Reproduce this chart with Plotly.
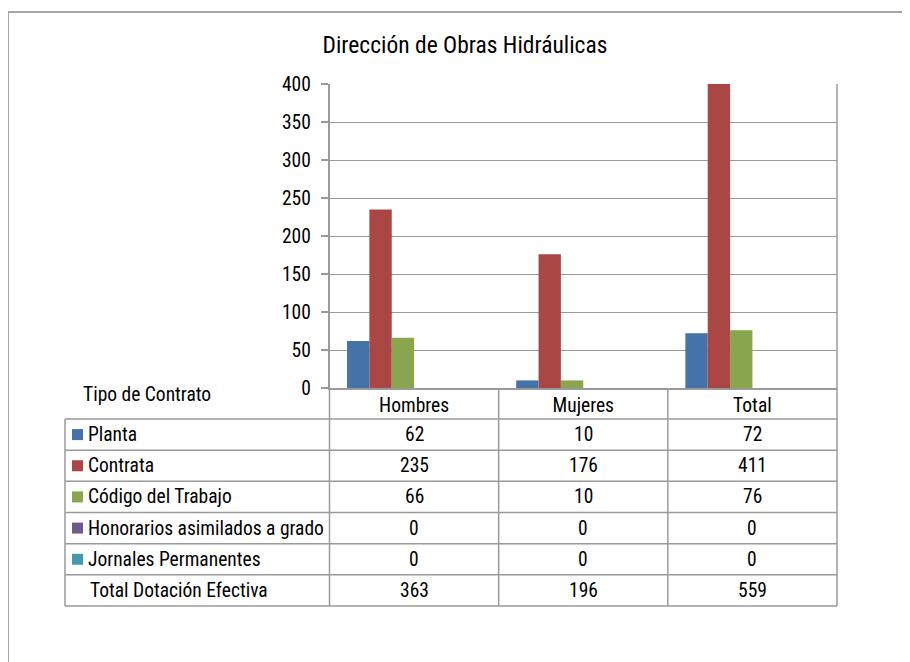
import plotly.graph_objects as go

# ---------------- data ----------------
title_text = "Dirección de Obras Hidráulicas"
table_header = "Tipo de Contrato"
categories = ["Hombres", "Mujeres", "Total"]

series_names = ["Planta", "Contrata", "Código del Trabajo",
                "Honorarios asimilados a grado", "Jornales Permanentes"]
planta = [62, 10, 72]
contrata = [235, 176, 411]
codigo_trabajo = [66, 10, 76]
honorarios = [0, 0, 0]
jornales = [0, 0, 0]
total_name = "Total Dotación Efectiva"
total_dotacion = [363, 196, 559]

y_tickvals = [0, 50, 100, 150, 200, 250, 300, 350, 400]

series_values = [planta, contrata, codigo_trabajo, honorarios, jornales]
series_colors = ["#4572A7", "#AA4643", "#89A54E", "#71588F", "#4198AF"]

# ---------------- layout helpers ----------------
W, H = 910, 662
OFF = 8  # page body margin
FONT = "Roboto Condensed, Liberation Sans, Arial, sans-serif"
FS = 19.5
GRID = "#9a9a9a"


def px(x):
    return (x - OFF) / W


def py(y):
    return 1 - (y - OFF) / H


PLOT_L, PLOT_R, PLOT_T, PLOT_B = 329.5, 837, 84, 388
TABLE_L, TABLE_B = 65, 606
ROW_TOP = 419
ROW_H = (TABLE_B - ROW_TOP) / 6.0

fig = go.Figure()

for name, vals, col in zip(series_names, series_values, series_colors):
    fig.add_trace(go.Bar(name=name, x=categories, y=vals,
                         marker=dict(color=col, line=dict(width=0))))
# total series occupies a slot but has no fill (as in the original)
fig.add_trace(go.Bar(name=total_name, x=categories, y=total_dotacion,
                     marker=dict(color="rgba(0,0,0,0)", line=dict(width=0)),
                     showlegend=False))

shapes = []
annotations = []

# outer chart border
shapes.append(dict(type="line", xref="paper", yref="paper",
                   x0=px(8), x1=px(W + 20), y0=py(12), y1=py(12),
                   line=dict(color="#a6a6a6", width=2)))
shapes.append(dict(type="line", xref="paper", yref="paper",
                   x0=px(8), x1=px(8), y0=py(12), y1=py(H + 20),
                   line=dict(color="#a6a6a6", width=2)))

# plot area right border
shapes.append(dict(type="line", xref="paper", yref="paper",
                   x0=px(PLOT_R), x1=px(PLOT_R), y0=py(PLOT_T), y1=py(PLOT_B),
                   line=dict(color=GRID, width=1.5)))

# table vertical lines
col_edges = [PLOT_L, PLOT_L + (PLOT_R - PLOT_L) / 3, PLOT_L + 2 * (PLOT_R - PLOT_L) / 3, PLOT_R]
for xe in col_edges:
    shapes.append(dict(type="line", xref="paper", yref="paper",
                       x0=px(xe), x1=px(xe), y0=py(PLOT_B), y1=py(TABLE_B),
                       line=dict(color=GRID, width=1.5)))
shapes.append(dict(type="line", xref="paper", yref="paper",
                   x0=px(TABLE_L), x1=px(TABLE_L), y0=py(ROW_TOP), y1=py(TABLE_B),
                   line=dict(color=GRID, width=1.5)))
# table horizontal lines
for i in range(7):
    yy = ROW_TOP + i * ROW_H
    shapes.append(dict(type="line", xref="paper", yref="paper",
                       x0=px(TABLE_L), x1=px(PLOT_R), y0=py(yy), y1=py(yy),
                       line=dict(color=GRID, width=1.5)))

# header label
annotations.append(dict(text=table_header, xref="paper", yref="paper",
                        x=px(81), y=py(394), xanchor="left", yanchor="middle",
                        showarrow=False, font=dict(family=FONT, size=FS, color="#000")))

# rows
row_labels = series_names + [total_name]
row_values = series_values + [total_dotacion]
row_colors = series_colors + [None]
for i, (lab, vals, col) in enumerate(zip(row_labels, row_values, row_colors)):
    yc = ROW_TOP + (i + 0.5) * ROW_H
    if col is not None:
        shapes.append(dict(type="rect", xref="paper", yref="paper",
                           x0=px(72), x1=px(83), y0=py(yc - 5.5), y1=py(yc + 5.5),
                           fillcolor=col, line=dict(width=0)))
        lx = 86
    else:
        lx = 88
    annotations.append(dict(text=lab, xref="paper", yref="paper",
                            x=px(lx), y=py(yc), xanchor="left", yanchor="middle",
                            showarrow=False, font=dict(family=FONT, size=FS, color="#000")))
    for cat, v in zip(categories, vals):
        annotations.append(dict(text=str(v), xref="x", yref="paper",
                                x=cat, y=py(yc), xanchor="center", yanchor="middle",
                                showarrow=False, font=dict(family=FONT, size=FS, color="#000")))

fig.update_layout(
    width=W, height=H,
    margin=dict(l=0, r=0, t=0, b=0, autoexpand=False),
    paper_bgcolor="white", plot_bgcolor="white",
    showlegend=False,
    barmode="group", bargap=0.207, bargroupgap=0,
    font=dict(family=FONT, size=FS, color="#000"),
    title=dict(text=title_text, x=px(465), y=py(45), xanchor="center", yanchor="middle",
               font=dict(family=FONT, size=23.5, color="#000")),
    xaxis=dict(domain=[px(PLOT_L), px(PLOT_R)], range=[-0.5, 2.5], automargin=False,
               showline=True, linecolor=GRID, linewidth=1.5,
               showgrid=False, ticks="", ticklabelstandoff=-1,
               tickfont=dict(family=FONT, size=FS, color="#000")),
    yaxis=dict(domain=[py(PLOT_B), py(PLOT_T)], range=[0, 400], automargin=False,
               tickvals=y_tickvals, showline=True, linecolor=GRID, linewidth=1.5,
               showgrid=True, gridcolor=GRID, gridwidth=1.3, zeroline=False,
               ticks="outside", ticklen=7, tickcolor=GRID, tickwidth=1.5,
               ticklabelstandoff=6,
               tickfont=dict(family=FONT, size=FS, color="#000")),
    shapes=shapes, annotations=annotations,
)

fig.write_html("out.html")
